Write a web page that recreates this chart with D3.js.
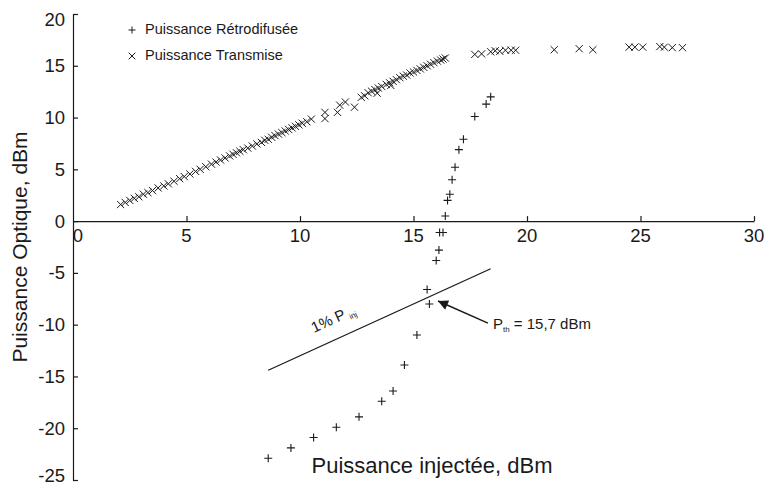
<!DOCTYPE html>
<html><head><meta charset="utf-8">
<script src="https://cdn.jsdelivr.net/npm/d3@7"></script>
<style>
body{margin:0;background:#fff;}
text{font-family:"Liberation Sans",Arial,sans-serif;fill:#1a1a1a;}
</style></head>
<body><svg id="chart" width="765" height="486"></svg>
<script>
// ---- data ----
const xTicks = [0, 5, 10, 15, 20, 25, 30];
const yTicks = [-25, -20, -15, -10, -5, 0, 5, 10, 15, 20];
const legendLabels = ["Puissance Rétrodifusée", "Puissance Transmise"];
const xTitle = "Puissance injectée, dBm";
const yTitle = "Puissance Optique, dBm";

// Puissance Transmise (x marks)
const transX = [2.1,2.3,2.5,2.7,2.9,3.1,3.3,3.5,3.75,4.0,4.2,4.45,4.7,4.9,5.15,5.4,5.6,5.85,6.1,6.3,6.5,6.7,6.9,7.05,7.2,7.35,7.5,7.7,7.9,8.1,8.3,8.45,8.6,8.75,8.9,9.05,9.2,9.35,9.5,9.65,9.8,9.95,10.1,10.3,10.5,
  11.1,11.1,11.65,11.75,12.0,12.4,12.7,12.85,13.0,13.15,13.3,13.4,13.45,13.6,13.8,13.95,14.0,14.1,14.25,14.4,14.55,14.7,14.85,15.0,15.15,15.3,15.45,15.6,15.75,15.9,16.05,16.2,16.3,16.4,
  17.7,18.0,18.4,18.6,18.8,19.05,19.3,19.5,21.2,22.3,22.9,24.5,24.75,25.1,25.85,26.05,26.4,26.85];
const transY = [1.6,1.8,2.0,2.2,2.35,2.6,2.75,2.95,3.2,3.4,3.6,3.85,4.1,4.3,4.55,4.8,5.0,5.25,5.5,5.7,5.9,6.1,6.3,6.45,6.6,6.75,6.9,7.05,7.25,7.45,7.6,7.8,7.9,8.1,8.25,8.4,8.55,8.7,8.85,9.0,9.15,9.3,9.45,9.6,9.85,
  10.5,9.9,10.5,11.2,11.5,11.0,11.95,12.1,12.4,12.55,12.7,12.35,12.85,13.0,13.2,13.35,13.1,13.5,13.65,13.85,14.0,14.1,14.3,14.4,14.55,14.7,14.85,15.0,15.15,15.3,15.45,15.55,15.65,15.75,
  16.1,16.15,16.35,16.45,16.4,16.5,16.5,16.5,16.55,16.65,16.55,16.8,16.8,16.8,16.85,16.8,16.75,16.75];

// Puissance Rétrodifusée (+ marks)
const backX = [8.6,9.6,10.6,11.6,12.6,13.6,14.1,14.6,15.15,15.6,15.7,16.0,16.12,16.15,16.3,16.4,16.5,16.6,16.7,16.83,17.0,17.2,17.7,18.2,18.4];
const backY = [-22.9,-21.9,-20.9,-19.9,-18.9,-17.4,-16.4,-13.9,-11.0,-6.6,-8.0,-3.8,-2.8,-1.1,-1.1,0.5,2.0,2.6,4.0,5.2,6.9,7.9,10.1,11.3,12.0];

// 1% P_inj reference line (endpoints) and threshold annotation
const refLineX = [8.6, 18.4];
const refLineY = [-14.4, -4.6];
const refLabel = ["1% P", "inj"];
const refLabelAt = [10.62, -10.8];
const arrowFrom = [18.28, -9.85];
const arrowTo = [16.08, -7.72];
const thLabel = ["P", "th", " = 15,7 dBm"];
const thLabelAt = [18.5, -10.4];

// ---- drawing ----
const svg = d3.select("#chart");
const ink = "#1a1a1a";
const x = d3.scaleLinear().domain([0, 30]).range([73, 754]);
const y = d3.scaleLinear().domain([-25, 20]).range([480, 14]);

// y axis (ticks pointing inward)
const yAxis = svg.append("g").attr("transform", `translate(${x(0)},0)`)
  .call(d3.axisRight(y).tickValues(yTicks).tickSize(5).tickSizeOuter(0).tickFormat(""));
yAxis.select(".domain").attr("stroke", ink).attr("stroke-width", 1.2);
yAxis.selectAll(".tick line").attr("stroke", ink).attr("stroke-width", 1.2);
svg.append("g").selectAll("text").data(yTicks).join("text")
  .attr("x", 65).attr("y", d => y(d) + (d === 20 ? 6 : d === -25 ? -4 : 0))
  .attr("dy", "0.35em").attr("text-anchor", "end").attr("font-size", 18.5)
  .text(d => d);

// x axis at y = 0
const xAxis = svg.append("g").attr("transform", `translate(0,${y(0)})`)
  .call(d3.axisTop(x).tickValues(xTicks).tickSize(5).tickSizeOuter(0).tickFormat(""));
xAxis.select(".domain").attr("stroke", ink).attr("stroke-width", 1.2);
xAxis.selectAll(".tick line").attr("stroke", ink).attr("stroke-width", 1.2)
  .attr("display", d => d === 0 ? "none" : null);
svg.append("g").selectAll("text").data(xTicks).join("text")
  .attr("x", d => x(d) + (d === 0 ? 5 : 0)).attr("y", y(0) + 21)
  .attr("text-anchor", "middle").attr("font-size", 18.5)
  .text(d => d);

// axis titles
svg.append("text").attr("x", 432).attr("y", 473).attr("text-anchor", "middle")
  .attr("font-size", 22).text(xTitle);
svg.append("text").attr("transform", "translate(27,247) rotate(-90)").attr("text-anchor", "middle")
  .attr("font-size", 21).text(yTitle);

// marker paths
const plus = s => `M${-s},0H${s}M0,${-s}V${s}`;
const cross = s => `M${-s},${-s}L${s},${s}M${-s},${s}L${s},${-s}`;

// transmitted
svg.append("g").selectAll("path").data(transX.map((v, i) => [v, transY[i]])).join("path")
  .attr("transform", d => `translate(${x(d[0])},${y(d[1])})`)
  .attr("d", cross(3.6)).attr("stroke", ink).attr("stroke-width", 1).attr("fill", "none");

// backscattered
svg.append("g").selectAll("path").data(backX.map((v, i) => [v, backY[i]])).join("path")
  .attr("transform", d => `translate(${x(d[0])},${y(d[1])})`)
  .attr("d", plus(4)).attr("stroke", ink).attr("stroke-width", 1.1).attr("fill", "none");

// reference line
svg.append("line")
  .attr("x1", x(refLineX[0])).attr("y1", y(refLineY[0]))
  .attr("x2", x(refLineX[1])).attr("y2", y(refLineY[1]))
  .attr("stroke", ink).attr("stroke-width", 1.3);
const ang = Math.atan2(y(refLineY[1]) - y(refLineY[0]), x(refLineX[1]) - x(refLineX[0])) * 180 / Math.PI;
const rl = svg.append("text")
  .attr("transform", `translate(${x(refLabelAt[0])},${y(refLabelAt[1])}) rotate(${ang})`)
  .attr("font-size", 15);
rl.append("tspan").text(refLabel[0]);
rl.append("tspan").attr("font-size", 8).attr("dx", 3).attr("dy", 3).text(refLabel[1]);

// arrow
svg.append("defs").append("marker").attr("id", "ah")
  .attr("viewBox", "0 0 10 10").attr("refX", 10).attr("refY", 5)
  .attr("markerWidth", 14).attr("markerHeight", 10).attr("markerUnits", "userSpaceOnUse")
  .attr("orient", "auto")
  .append("path").attr("d", "M0,0L10,5L0,10Z").attr("fill", ink);
svg.append("line")
  .attr("x1", x(arrowFrom[0])).attr("y1", y(arrowFrom[1]))
  .attr("x2", x(arrowTo[0])).attr("y2", y(arrowTo[1]))
  .attr("stroke", ink).attr("stroke-width", 1.5).attr("marker-end", "url(#ah)");
const tl = svg.append("text").attr("x", x(thLabelAt[0])).attr("y", y(thLabelAt[1])).attr("font-size", 15);
tl.append("tspan").text(thLabel[0]);
tl.append("tspan").attr("font-size", 8).attr("dy", 3).text(thLabel[1]);
tl.append("tspan").attr("dy", -3).text(thLabel[2]);

// legend
const lg = svg.append("g");
lg.append("path").attr("transform", "translate(132,30)").attr("d", plus(3.5))
  .attr("stroke", ink).attr("stroke-width", 1).attr("fill", "none");
lg.append("path").attr("transform", "translate(132,56)").attr("d", cross(3.3))
  .attr("stroke", ink).attr("stroke-width", 1).attr("fill", "none");
lg.selectAll("text").data(legendLabels).join("text")
  .attr("x", 145).attr("y", (d, i) => 34 + i * 26).attr("font-size", 14.5).text(d => d);
</script></body></html>
